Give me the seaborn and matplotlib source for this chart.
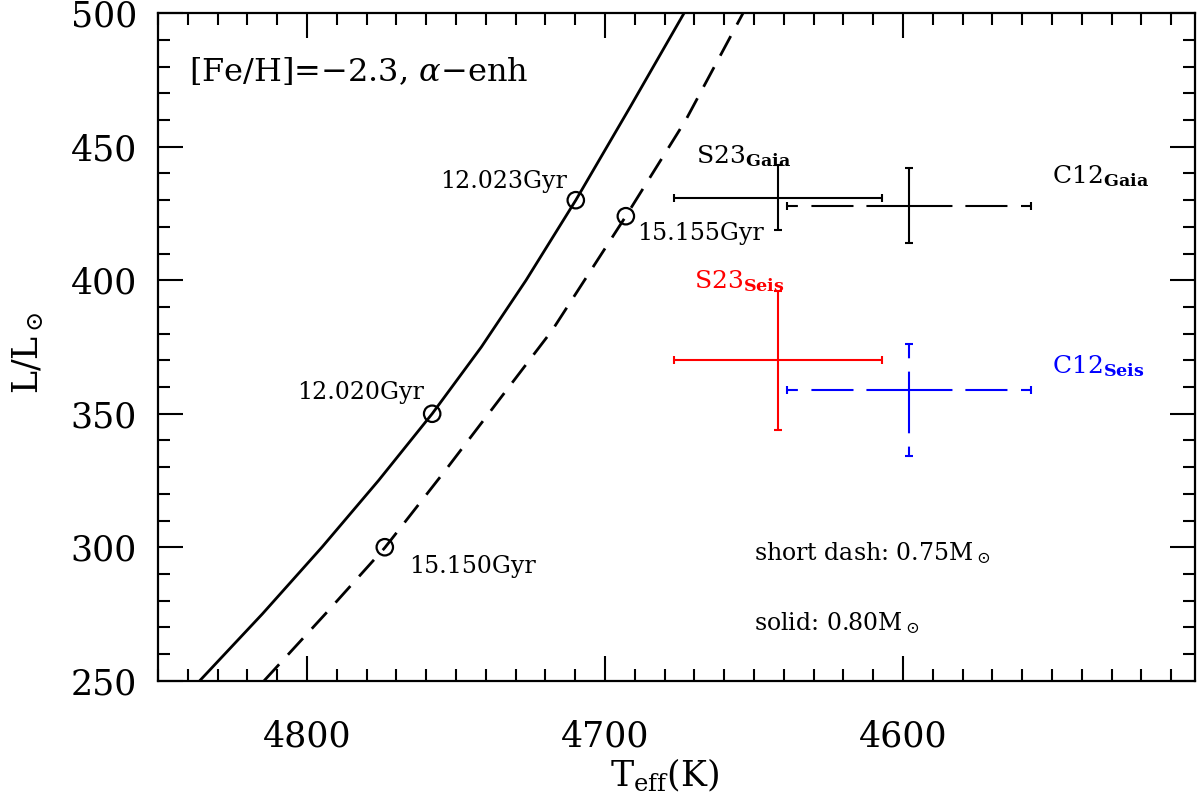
import matplotlib
matplotlib.use('Agg')
import matplotlib.pyplot as plt
from matplotlib.ticker import MultipleLocator
import pandas as pd
import seaborn as sns

# isochrone tracks (Teff in K, L in Lsun)
solid_teff = [4836.0, 4815.0, 4795.0, 4776.0, 4758.0, 4741.5, 4726.5, 4709.8, 4691.5, 4673.5]
solid_lum = [250.0, 275.0, 300.0, 325.0, 350.0, 375.0, 400.0, 430.0, 465.0, 500.0]
dash_teff = [4814.4, 4793.7, 4773.9, 4753.5, 4717.7, 4693.0, 4672.9, 4653.7]
dash_lum = [250.0, 275.2, 299.8, 328.9, 381.3, 424.0, 460.0, 500.0]

# age markers on the tracks
age_teff = [4709.8, 4758.0, 4693.0, 4773.9]
age_lum = [430.0, 350.0, 424.0, 300.0]
age_label = ['12.023Gyr', '12.020Gyr', '15.155Gyr', '15.150Gyr']

# observed positions with errors
obs_name = ['S23$_{\\bf Gaia}$', 'C12$_{\\bf Gaia}$', 'S23$_{\\bf Seis}$', 'C12$_{\\bf Seis}$']
obs_teff = [4642, 4598, 4642, 4598]
obs_teff_err = [35, 41, 35, 41]
obs_lum = [431, 428, 370, 359]
obs_lum_lo = [12, 14, 26, 25]
obs_lum_hi = [12, 14, 26, 17]
obs_color = ['black', 'black', 'red', 'blue']

sns.set_theme(style='ticks')
plt.rcParams['font.family'] = ['DejaVu Serif']
plt.rcParams['mathtext.fontset'] = 'dejavuserif'
plt.rcParams['text.color'] = 'black'
plt.rcParams['axes.labelcolor'] = 'black'
plt.rcParams['xtick.color'] = 'black'
plt.rcParams['ytick.color'] = 'black'

fig, ax = plt.subplots(figsize=(12, 7.93), dpi=100)
fig.subplots_adjust(left=0.1317, right=0.9958, bottom=0.1416, top=0.9832)

solid = pd.DataFrame({'teff': solid_teff, 'lum': solid_lum})
dashed = pd.DataFrame({'teff': dash_teff, 'lum': dash_lum})
sns.lineplot(data=solid, x='teff', y='lum', sort=False, estimator=None, color='black', lw=2, ax=ax)
sns.lineplot(data=dashed, x='teff', y='lum', sort=False, estimator=None, color='black', lw=2,
             linestyle=(0, (8, 4.7)), ax=ax)
sns.scatterplot(x=age_teff, y=age_lum, marker='o', s=140, facecolor='none', edgecolor='black',
                linewidth=1.6, ax=ax, zorder=5)

# age labels
ax.text(4712.8, 437, age_label[0], ha='right', va='center', fontsize=17)
ax.text(4760.7, 358, age_label[1], ha='right', va='center', fontsize=17)
ax.text(4689.3, 417.7, age_label[2], ha='left', va='center', fontsize=17)
ax.text(4765.8, 292.6, age_label[3], ha='left', va='center', fontsize=17)

# error crosses; C12 horizontals are dashed like the original
h_dash = (0, (4.8, 6.5, 20.2, 6.2, 41.3, 6.2, 20.2, 6.5, 4.8, 50))
v_dash = (0, (4.5, 6.4, 29.6, 6.4, 10, 50))
for i in range(len(obs_name)):
    eb = ax.errorbar(obs_teff[i], obs_lum[i], xerr=obs_teff_err[i],
                     yerr=[[obs_lum_lo[i]], [obs_lum_hi[i]]], fmt='none',
                     ecolor=obs_color[i], elinewidth=1.5, capsize=3, capthick=1.5)
    if obs_name[i].startswith('C12'):
        eb[2][0].set_linestyle(h_dash)
    if i == 3:
        eb[2][1].set_linestyle(v_dash)

ax.text(4669.5, 444, obs_name[0], color='black', fontsize=18, va='baseline')
ax.text(4550, 436.4, obs_name[1], color='black', fontsize=18, va='baseline')
ax.text(4670, 397, obs_name[2], color='red', fontsize=18, va='baseline')
ax.text(4550, 365.2, obs_name[3], color='blue', fontsize=18, va='baseline')

ax.text(4650, 295, 'short dash: 0.75M$_\\odot$', fontsize=17, va='baseline')
ax.text(4650, 269, 'solid: 0.80M$_\\odot$', fontsize=17, va='baseline')
ax.text(4839.6, 478, '[Fe/H]=\u22122.3, $\\alpha$\u2212enh', fontsize=23, va='center')

ax.set_xlim(4850, 4502)
ax.set_ylim(250, 500)
ax.xaxis.set_major_locator(MultipleLocator(100))
ax.xaxis.set_minor_locator(MultipleLocator(10))
ax.yaxis.set_major_locator(MultipleLocator(50))
ax.yaxis.set_minor_locator(MultipleLocator(10))
ax.tick_params(which='both', direction='in', top=True, right=True, width=1.5, color='black')
ax.tick_params(which='major', length=18)
ax.tick_params(which='minor', length=8.5)
ax.tick_params(axis='x', labelsize=25, pad=28)
ax.tick_params(axis='y', labelsize=25, pad=15)
for s in ax.spines.values():
    s.set_linewidth(1.6)
    s.set_color('black')

ax.set_xlabel('T$_{\\rm eff}$(K)', fontsize=25)
ax.set_ylabel('L/L$_\\odot$', fontsize=25)
ax.xaxis.set_label_coords(0.489, -0.115)
ax.yaxis.set_label_coords(-0.108, 0.491)

fig.savefig('out.png', dpi=100)
